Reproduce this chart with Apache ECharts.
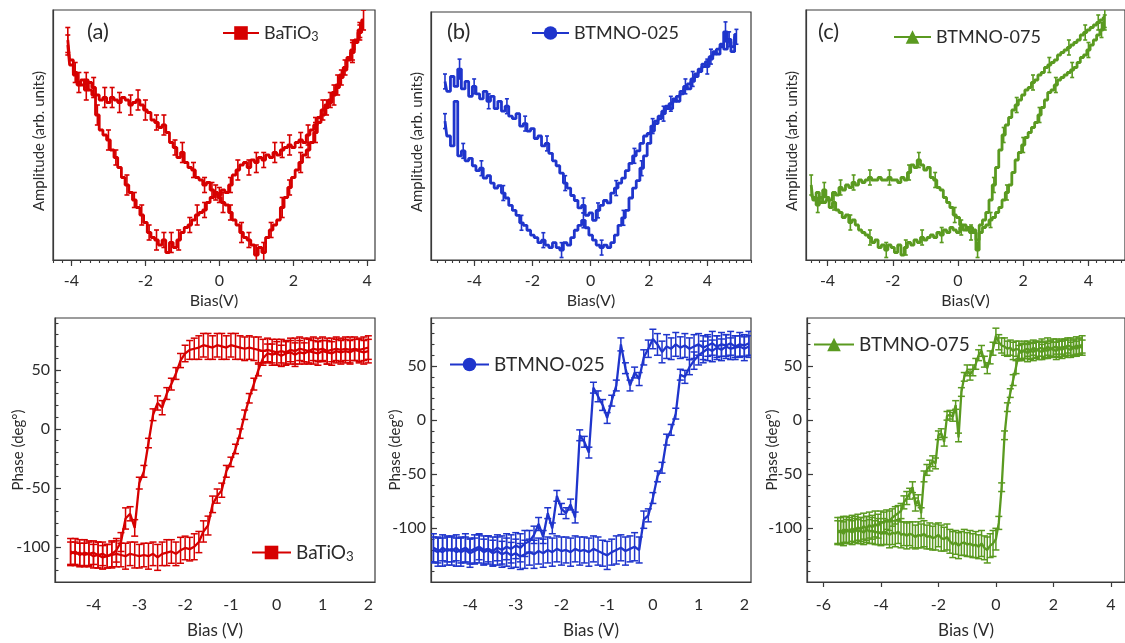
<!DOCTYPE html>
<html>
<head>
<meta charset="utf-8">
<script src="https://cdn.jsdelivr.net/npm/echarts@6/dist/echarts.min.js"></script>
<style>
  html, body { margin: 0; padding: 0; background: #fff; }
  #chart { width: 1125px; height: 643px; }
</style>
</head>
<body>
<div id="chart"></div>
<script>
// ---- data ----
// (a) top: BaTiO3 amplitude, arb. units (0 = bottom of frame, 100 = top)
const biasTopA = [-4.1,-4,-3.9,-3.8,-3.7,-3.6,-3.5,-3.4,-3.3,-3.2,-3.1,-3,-2.9,-2.8,-2.7,-2.6,-2.5,-2.4,-2.3,-2.2,-2.1,-2,-1.9,-1.8,-1.7,-1.6,-1.5,-1.4,-1.3,-1.2,-1.1,-1,-0.9,-0.8,-0.7,-0.6,-0.5,-0.4,-0.3,-0.2,-0.1,0,0.1,0.2,0.3,0.4,0.5,0.6,0.7,0.8,0.9,1,1.1,1.2,1.3,1.4,1.5,1.6,1.7,1.8,1.9,2,2.1,2.2,2.3,2.4,2.5,2.6,2.7,2.8,2.9,3,3.1,3.2,3.3,3.4,3.5,3.6,3.7,3.8,3.9];
const ampUpA = [88,80,75,70,72,68,71,69,66,64, 65,63,65,64,63,65,64,62,63,64, 62,60,59,56,55,53,54,51,47,45, 41,43,39,37,36,33,32,30,31,28, 27,26,28,27,30,34,36,38,39,37, 40,39,41,40,42,41,43,42,44,45, 46,45,47,48,47,50,52,54,57,60, 62,64,67,70,74,77,81,84,88,92,96];
const ampLowA = [86,78,74,71,70,72,68,66,58,52, 50,48,44,41,37,33,30,27,24,21, 18,15,11,9,8,6,8,3,7,5, 8,11,13,14,16,18,19,20,23,25, 27,25,23,22,19,16,14,11,9,8, 6,2,5,3,9,12,14,16,21,25, 29,33,36,39,42,44,47,51,55,58, 61,63,66,69,73,76,80,83,87,91,95];
const errUpA = [5,0,4,0,0,4,0,4,0,0, 4,0,4,0,4,0,0,4,0,4, 0,4,0,0,3,0,4,0,0,3, 0,4,0,0,3,0,0,3,0,3, 0,3,0,0,3,0,4,0,0,3, 0,4,0,3,0,0,4,0,3,0, 4,0,0,3,0,4,0,3,0,4, 0,3,0,4,0,3,0,4,0,3,4];
const errLowA = [4,0,0,4,0,3,0,0,4,0, 0,4,0,3,0,0,4,0,3,0, 4,0,3,0,4,0,3,0,4,0, 4,0,0,3,0,4,0,3,0,0, 3,0,4,0,3,0,0,4,0,3, 0,4,0,4,0,3,0,0,4,0, 3,0,0,4,0,3,0,4,0,0, 3,0,4,0,3,0,0,4,0,3,0];

// (b) top: BTMNO-025 amplitude
const biasTopB = [-5,-4.875,-4.75,-4.625,-4.5,-4.375,-4.25,-4.125,-4,-3.875,-3.75,-3.625,-3.5,-3.375,-3.25,-3.125,-3,-2.875,-2.75,-2.625,-2.5,-2.375,-2.25,-2.125,-2,-1.875,-1.75,-1.625,-1.5,-1.375,-1.25,-1.125,-1,-0.875,-0.75,-0.625,-0.5,-0.375,-0.25,-0.125,0,0.125,0.25,0.375,0.5,0.625,0.75,0.875,1,1.125,1.25,1.375,1.5,1.625,1.75,1.875,2,2.125,2.25,2.375,2.5,2.625,2.75,2.875,3,3.125,3.25,3.375,3.5,3.625,3.75,3.875,4,4.125,4.25,4.375,4.5,4.625,4.75,4.875,5];
const ampUpB = [72,68,74,70,77,69,72,66,70,67, 65,68,64,66,61,64,60,62,58,57, 59,54,55,52,53,49,50,46,47,43, 40,38,35,31,29,26,24,21,22,18, 19,16,20,22,24,23,27,29,31,33, 36,39,42,44,47,50,51,54,56,58, 60,61,63,64,66,68,69,71,73,75, 77,78,80,82,83,85,86,92,88,86,90];
const ampLowB = [56,50,46,64,42,44,40,41,38,36, 37,33,34,31,29,30,27,25,22,20, 18,15,14,12,10,9,7,8,6,5, 7,5,4,7,6,9,12,14,16,13, 10,8,6,5,6,5,7,10,14,17, 20,25,29,32,37,42,47,52,55,57, 59,62,61,65,64,67,70,69,72,74, 76,79,78,81,84,83,87,85,89,84,91];
const errUpB = [3,0,0,0,4,0,0,0,3,0, 0,0,3,0,0,0,0,3,0,0, 0,0,3,0,0,0,0,0,3,0, 0,0,0,3,0,0,0,0,3,0, 0,0,3,0,0,0,0,3,0,0, 0,0,3,0,0,0,0,3,0,0, 0,0,3,0,0,0,0,0,3,0, 0,0,0,3,0,0,0,4,0,0,3];
const errLowB = [3,0,0,0,0,3,0,0,0,0, 3,0,0,0,0,0,3,0,0,0, 0,3,0,0,0,0,0,3,0,0, 0,0,3,0,0,0,0,0,3,0, 0,0,0,3,0,0,0,0,0,3, 0,0,0,0,3,0,0,0,0,0, 3,0,0,0,0,0,3,0,0,0, 0,0,3,0,0,0,0,0,3,0,0];

// (c) top: BTMNO-075 amplitude
const biasTopC = [-4.5,-4.4,-4.3,-4.2,-4.1,-4,-3.9,-3.8,-3.7,-3.6,-3.5,-3.4,-3.3,-3.2,-3.1,-3,-2.9,-2.8,-2.7,-2.6,-2.5,-2.4,-2.3,-2.2,-2.1,-2,-1.9,-1.8,-1.7,-1.6,-1.5,-1.4,-1.3,-1.2,-1.1,-1,-0.9,-0.8,-0.7,-0.6,-0.5,-0.4,-0.3,-0.2,-0.1,0,0.1,0.2,0.3,0.4,0.5,0.6,0.7,0.8,0.9,1,1.1,1.2,1.3,1.4,1.5,1.6,1.7,1.8,1.9,2,2.1,2.2,2.3,2.4,2.5,2.6,2.7,2.8,2.9,3,3.1,3.2,3.3,3.4,3.5,3.6,3.7,3.8,3.9,4,4.1,4.2,4.3,4.4,4.5];
const ampUpC = [30,24,27,23,28,25,24,27,26,29, 28,30,29,31,30,32,31,32,33,32, 32,33,32,32,33,32,32,31,33,32, 35,38,37,40,38,36,37,33,32,29, 28,25,23,21,18,17,14,12,13,11, 12,8,11,13,14,16,17,19,21,24, 27,30,35,40,43,46,49,51,53,55, 58,61,64,67,68,70,72,73,74,75, 76,77,79,81,82,84,86,88,90,92,95];
const ampLowC = [26,25,22,25,23,24,21,23,20,19, 17,18,15,16,14,12,11,10,9,7, 8,5,6,4,6,5,3,6,2,5, 7,6,8,7,9,8,9,10,9,11, 10,12,11,13,12,11,13,14,12,13, 11,4,14,16,19,24,30,37,44,50, 54,57,60,62,64,66,68,69,71,72, 74,75,77,78,79,80,82,83,84,85, 86,87,88,90,91,92,93,94,95,96,97];
const errUpC = [4,0,0,0,3,0,0,0,0,3, 0,0,0,3,0,0,0,0,3,0, 0,0,0,0,3,0,0,0,0,0, 3,0,0,3,0,0,0,0,3,0, 0,0,0,0,3,0,0,0,0,3, 0,0,0,0,0,3,0,0,0,0, 3,0,0,0,0,3,0,0,0,0, 3,0,0,0,0,3,0,0,0,0, 3,0,0,0,0,3,0,0,0,3,3];
const errLowC = [0,0,3,0,0,0,0,3,0,0, 0,0,3,0,0,0,0,0,3,0, 0,0,0,3,0,0,0,0,0,3, 0,0,0,0,3,0,0,0,0,0, 3,0,0,0,0,0,3,0,0,0, 0,3,0,0,0,0,3,0,0,3, 0,0,0,3,0,0,0,0,3,0, 0,0,0,3,0,0,0,0,0,3, 0,0,0,0,3,0,0,0,3,0,4];

// (a) bottom: BaTiO3 phase (deg)
const biasPhA = [-4.5,-4.4,-4.3,-4.2,-4.1,-4,-3.9,-3.8,-3.7,-3.6,-3.5,-3.4,-3.3,-3.2,-3.1,-3,-2.9,-2.8,-2.7,-2.6,-2.5,-2.4,-2.3,-2.2,-2.1,-2,-1.9,-1.8,-1.7,-1.6,-1.5,-1.4,-1.3,-1.2,-1.1,-1,-0.9,-0.8,-0.7,-0.6,-0.5,-0.4,-0.3,-0.2,-0.1,0,0.1,0.2,0.3,0.4,0.5,0.6,0.7,0.8,0.9,1,1.1,1.2,1.3,1.4,1.5,1.6,1.7,1.8,1.9,2];
const phUpA = [-106,-104,-107,-105,-106,-108,-107,-109,-108,-106, -103,-96,-76,-72,-84,-46,-36,-12,12,22, 18,30,38,47,58,64,67,68,69,71, 70,69,71,70,69,71,70,69,68,69, 68,67,66,67,66,65,66,65,67,66, 68,67,66,68,67,68,66,67,68,67, 68,67,68,67,68,69];
const phDownA = [-104,-106,-105,-107,-106,-105,-107,-106,-108,-107, -106,-107,-108,-106,-107,-108,-107,-108,-106,-109, -106,-105,-104,-106,-103,-101,-102,-100,-96,-87, -82,-64,-57,-52,-36,-28,-17,-4,12,26, 38,50,60,64,63,64,62,64,65,63, 65,64,66,65,64,66,65,64,66,65, 66,65,67,66,65,66];
const errPhUpA = [10,11,10,11,10,10,11,10,10,11, 10,8,9,6,7,5,5,4,5,6, 6,5,5,5,6,7,8,9,10,10, 11,10,10,11,10,10,11,10,10,10, 10,11,10,10,10,11,10,10,10,11, 10,10,11,10,10,10,11,10,10,10, 10,11,10,10,10,10];
const errPhDownA = [11,10,11,10,11,10,11,10,10,11, 11,10,11,10,11,10,10,11,10,11, 10,11,10,10,11,10,10,11,9,9, 8,7,6,6,5,4,4,4,4,4, 5,5,6,8,9,10,9,10,10,10, 10,9,10,10,10,9,10,10,10,10, 10,10,9,10,10,10];

// (b) bottom: BTMNO-025 phase (deg)
const biasPhB = [-4.8,-4.7,-4.6,-4.5,-4.4,-4.3,-4.2,-4.1,-4,-3.9,-3.8,-3.7,-3.6,-3.5,-3.4,-3.3,-3.2,-3.1,-3,-2.9,-2.8,-2.7,-2.6,-2.5,-2.4,-2.3,-2.2,-2.1,-2,-1.9,-1.8,-1.7,-1.6,-1.5,-1.4,-1.3,-1.2,-1.1,-1,-0.9,-0.8,-0.7,-0.6,-0.5,-0.4,-0.3,-0.2,-0.1,0,0.1,0.2,0.3,0.4,0.5,0.6,0.7,0.8,0.9,1,1.1,1.2,1.3,1.4,1.5,1.6,1.7,1.8,1.9,2,2.1];
const phUpB = [-120,-122,-118,-121,-119,-122,-120,-118,-121,-119, -117,-120,-119,-121,-118,-120,-117,-119,-116,-118, -114,-112,-106,-96,-108,-86,-100,-70,-82,-86, -78,-90,-14,-20,-30,30,22,14,2,18, 32,70,48,32,44,38,58,66,75,70, 63,68,66,70,67,69,66,68,70,67, 69,71,68,70,69,71,68,70,69,71];
const phDownB = [-118,-120,-122,-119,-121,-118,-122,-120,-123,-121, -119,-122,-120,-123,-121,-124,-122,-125,-123,-126, -124,-122,-124,-121,-123,-120,-122,-119,-121,-120, -122,-119,-121,-120,-122,-119,-121,-123,-125,-122, -120,-118,-121,-119,-117,-120,-92,-88,-72,-52, -44,-18,-9,6,42,40,49,55,60,63, 66,64,67,65,68,66,67,68,66,68];
const errPhUpB = [12,13,12,13,12,13,12,13,12,13, 12,13,12,13,12,13,12,13,12,13, 12,10,8,6,6,5,5,5,5,5, 5,5,5,5,5,5,5,5,5,5, 5,6,5,5,5,6,7,8,9,10, 10,11,10,11,10,11,10,11,10,11, 10,11,10,11,10,11,10,11,10,11];
const errPhDownB = [13,12,13,12,13,12,13,12,13,12, 13,12,13,12,13,12,13,12,13,12, 13,12,13,12,13,12,13,12,13,12, 13,12,13,12,13,12,13,12,13,12, 13,12,13,12,13,12,8,6,5,5, 5,5,5,5,5,6,7,8,9,10, 11,10,11,10,11,10,11,10,11,10];

// (c) bottom: BTMNO-075 phase (deg)
const biasPhC = [-5.5,-5.4,-5.3,-5.2,-5.1,-5,-4.9,-4.8,-4.7,-4.6,-4.5,-4.4,-4.3,-4.2,-4.1,-4,-3.9,-3.8,-3.7,-3.6,-3.5,-3.4,-3.3,-3.2,-3.1,-3,-2.9,-2.8,-2.7,-2.6,-2.5,-2.4,-2.3,-2.2,-2.1,-2,-1.9,-1.8,-1.7,-1.6,-1.5,-1.4,-1.3,-1.2,-1.1,-1,-0.9,-0.8,-0.7,-0.6,-0.5,-0.4,-0.3,-0.2,-0.1,0,0.1,0.2,0.3,0.4,0.5,0.6,0.7,0.8,0.9,1,1.1,1.2,1.3,1.4,1.5,1.6,1.7,1.8,1.9,2,2.1,2.2,2.3,2.4,2.5,2.6,2.7,2.8,2.9,3];
const phUpC = [-104,-102,-105,-101,-103,-100,-102,-99,-101,-98, -100,-97,-99,-96,-98,-94,-95,-92,-93,-90, -88,-86,-84,-76,-72,-68,-62,-78,-74,-86, -52,-46,-42,-38,-40,-14,-12,-20,4,5, 3,14,-16,26,40,46,42,46,52,60, 64,54,48,58,66,78,72,69,68,66, 67,64,66,65,63,65,66,64,67,65, 66,67,65,68,66,67,68,66,68,67, 69,68,67,69,68,70];
const phDownC = [-102,-104,-101,-103,-102,-104,-101,-103,-102,-104, -101,-103,-102,-104,-103,-105,-103,-104,-106,-104, -105,-103,-106,-105,-107,-105,-106,-108,-106,-107, -105,-108,-107,-109,-108,-106,-109,-110,-108,-112, -115,-113,-116,-114,-113,-115,-114,-116,-115,-117, -114,-118,-120,-116,-114,-110,-95,-62,-14,12, 25,37,49,62,63,64,62,64,63,65, 64,63,65,64,66,65,64,66,65,67, 66,65,67,66,68,67];
const errPhUpC = [11,12,11,12,11,12,11,12,11,12, 11,12,11,12,11,10,10,9,9,8, 8,7,7,6,6,5,5,6,5,5, 5,5,5,5,5,4,4,4,4,4, 4,4,4,4,4,5,5,5,5,5, 5,5,5,6,6,7,7,7,8,7, 7,8,7,8,7,8,7,8,7,8, 7,8,7,8,7,8,7,8,7,8, 7,8,7,8,7,8];
const errPhDownC = [12,11,12,11,12,11,12,11,12,11, 12,11,12,11,12,11,12,11,12,11, 12,11,12,11,12,11,12,11,12,11, 12,11,12,11,12,11,12,11,12,11, 12,11,12,11,12,11,12,11,12,11, 12,11,12,11,12,10,6,4,4,4, 4,5,6,7,8,7,8,7,8,7, 8,7,8,7,8,7,8,7,8,7, 8,7,8,7,8,7];

// tick labels
const biasTicksTop = [-4, -2, 0, 2, 4];
const biasTicksBotAB = [-4, -3, -2, -1, 0, 1, 2];
const biasTicksBotC = [-6, -4, -2, 0, 2, 4];
const phaseTicks = [-100, -50, 0, 50];

// ---- styling / layout ----
const FONT = 'Lato, "Noto Sans", sans-serif';
const AXIS = '#3a3a3a';
const TEXT = '#2b2b2b';
const RED = '#d60000';
const BLUE = '#1f35cc';
const GREEN = '#5a9a20';

const pairs = (xs, ys) => xs.map((x, i) => [x, ys[i]]);
const bars = (xs, ys, es) => xs
  .map((x, i) => [x, ys[i] - (es[i] || 0), ys[i] + (es[i] || 0), es[i] || 0])
  .filter(d => d[3] > 0);

function minorTicks(min, max, step) {
  const out = [];
  for (let v = Math.ceil(min / step) * step; v <= max + 1e-9; v += step) {
    out.push(Math.round(v * 1000) / 1000);
  }
  return out;
}

function errorBar(cap, width) {
  return function (params, api) {
    const x = api.value(0);
    const lo = api.coord([x, api.value(1)]);
    const hi = api.coord([x, api.value(2)]);
    const style = { stroke: api.visual('color'), lineWidth: width };
    return {
      type: 'group',
      children: [
        { type: 'line', shape: { x1: lo[0], y1: lo[1], x2: hi[0], y2: hi[1] }, style },
        { type: 'line', shape: { x1: lo[0] - cap, y1: lo[1], x2: lo[0] + cap, y2: lo[1] }, style },
        { type: 'line', shape: { x1: hi[0] - cap, y1: hi[1], x2: hi[0] + cap, y2: hi[1] }, style }
      ]
    };
  };
}

const panels = [
  { grid: { left: 53, top: 10, width: 322, height: 250 }, x: [-4.5, 4.21], y: [0, 100], xTicks: biasTicksTop, top: true },
  { grid: { left: 431, top: 12, width: 320, height: 248 }, x: [-5.48, 5.5], y: [0, 100], xTicks: biasTicksTop, top: true },
  { grid: { left: 806, top: 10, width: 330, height: 250 }, x: [-4.66, 5.12], y: [0, 100], xTicks: biasTicksTop, top: true },
  { grid: { left: 55, top: 318, width: 320, height: 264 }, x: [-4.84, 2.145], y: [-129.9, 94.1], xTicks: biasTicksBotAB, yGap: 29, xTickLen: 0 },
  { grid: { left: 431, top: 318, width: 320, height: 264 }, x: [-4.853, 2.146], y: [-149.6, 94.4], xTicks: biasTicksBotAB, yGap: 28, xTickLen: 0 },
  { grid: { left: 807, top: 318, width: 330, height: 264 }, x: [-6.57, 4.49], y: [-149.6, 94.4], xTicks: biasTicksBotC, yGap: 27, xTickLen: 5 }
];

const grid = [], xAxis = [], yAxis = [];
panels.forEach((p, i) => {
  grid.push(Object.assign({ show: true, borderColor: AXIS, borderWidth: 1.2, backgroundColor: 'transparent' }, p.grid));
  const axisLine = { show: true, onZero: false, lineStyle: { color: AXIS, width: 1.2 } };
  // main x axis
  xAxis.push({
    type: 'value', gridIndex: i, min: p.x[0], max: p.x[1], position: 'bottom',
    axisLine,
    axisTick: { show: p.top || p.xTickLen > 0, length: p.top ? 6 : p.xTickLen, customValues: p.xTicks, lineStyle: { color: AXIS, width: 1.2 } },
    axisLabel: { customValues: p.xTicks, fontSize: 16, color: TEXT, fontFamily: FONT, margin: p.top ? 13 : 15 },
    splitLine: { show: false },
    name: p.top ? 'Bias(V)' : 'Bias (V)', nameLocation: 'middle', nameGap: p.top ? 33 : 40,
    nameTextStyle: { fontSize: p.top ? 16 : 17, color: TEXT, fontFamily: FONT }
  });
  // minor x ticks (top row only)
  xAxis.push({
    type: 'value', gridIndex: i, min: p.x[0], max: p.x[1], position: 'bottom',
    axisLine: { show: false, onZero: false },
    axisTick: { show: !!p.top, length: 3, customValues: minorTicks(p.x[0], p.x[1], 0.25), lineStyle: { color: AXIS, width: 1.1 } },
    axisLabel: { show: false }, splitLine: { show: false }
  });
  if (p.top) {
    yAxis.push({
      type: 'value', gridIndex: i, min: p.y[0], max: p.y[1],
      axisLine, axisTick: { show: false }, axisLabel: { show: false }, splitLine: { show: false },
      name: 'Amplitude (arb. units)', nameLocation: 'middle', nameGap: 6, nameRotate: 90,
      nameTextStyle: { fontSize: 15, color: TEXT, fontFamily: FONT, padding: [0, 0, 0, -12] }
    });
    yAxis.push({ type: 'value', gridIndex: i, min: p.y[0], max: p.y[1], show: false });
  } else {
    yAxis.push({
      type: 'value', gridIndex: i, min: p.y[0], max: p.y[1],
      axisLine,
      axisTick: { show: true, inside: true, length: 6, customValues: phaseTicks, lineStyle: { color: AXIS, width: 1.2 } },
      axisLabel: { customValues: phaseTicks, fontSize: 16, color: TEXT, fontFamily: FONT, margin: 5 },
      splitLine: { show: false },
      name: 'Phase (deg°)', nameLocation: 'middle', nameGap: p.yGap, nameRotate: 90, nameMoveOverlap: false,
      nameTextStyle: { fontSize: 15, color: TEXT, fontFamily: FONT }
    });
    yAxis.push({
      type: 'value', gridIndex: i, min: p.y[0], max: p.y[1], position: 'left',
      axisLine: { show: false, onZero: false },
      axisTick: { show: true, inside: true, length: 3.5, customValues: minorTicks(p.y[0], p.y[1], 10), lineStyle: { color: AXIS, width: 1.1 } },
      axisLabel: { show: false }, splitLine: { show: false }
    });
  }
});

function lineS(i, name, xs, ys, color, symbol, step) {
  return {
    type: 'line', name, xAxisIndex: 2 * i, yAxisIndex: 2 * i,
    data: pairs(xs, ys), step: step || false, showSymbol: false, symbol, symbolSize: 14,
    lineStyle: { color, width: step ? 2.8 : 2.3 }, itemStyle: { color },
    clip: true, silent: true, z: 3
  };
}
function errS(i, xs, ys, es, color, cap, width) {
  return {
    type: 'custom', xAxisIndex: 2 * i, yAxisIndex: 2 * i,
    data: bars(xs, ys, es), encode: { x: 0, y: [1, 2] },
    renderItem: errorBar(cap, width), itemStyle: { color },
    clip: true, silent: true, z: 2
  };
}

const series = [
  lineS(0, 'BaTiO3', biasTopA, ampUpA, RED, 'rect', 'middle'),
  lineS(0, 'a-top-2', biasTopA, ampLowA, RED, 'rect', 'middle'),
  errS(0, biasTopA, ampUpA, errUpA, RED, 2.5, 1.6),
  errS(0, biasTopA, ampLowA, errLowA, RED, 2.5, 1.6),

  lineS(1, 'BTMNO-025', biasTopB, ampUpB, BLUE, 'circle', 'middle'),
  lineS(1, 'b-top-2', biasTopB, ampLowB, BLUE, 'circle', 'middle'),
  errS(1, biasTopB, ampUpB, errUpB, BLUE, 2, 1.6),
  errS(1, biasTopB, ampLowB, errLowB, BLUE, 2, 1.6),

  lineS(2, 'BTMNO-075', biasTopC, ampUpC, GREEN, 'triangle', 'middle'),
  lineS(2, 'c-top-2', biasTopC, ampLowC, GREEN, 'triangle', 'middle'),
  errS(2, biasTopC, ampUpC, errUpC, GREEN, 2, 1.6),
  errS(2, biasTopC, ampLowC, errLowC, GREEN, 2, 1.6),

  lineS(3, 'a-bot-1', biasPhA, phUpA, RED, 'rect'),
  lineS(3, 'a-bot-2', biasPhA, phDownA, RED, 'rect'),
  errS(3, biasPhA, phUpA, errPhUpA, RED, 3.5, 1.5),
  errS(3, biasPhA, phDownA, errPhDownA, RED, 3.5, 1.5),

  lineS(4, 'b-bot-1', biasPhB, phUpB, BLUE, 'circle'),
  lineS(4, 'b-bot-2', biasPhB, phDownB, BLUE, 'circle'),
  errS(4, biasPhB, phUpB, errPhUpB, BLUE, 3.5, 1.5),
  errS(4, biasPhB, phDownB, errPhDownB, BLUE, 3.5, 1.5),

  lineS(5, 'c-bot-1', biasPhC, phUpC, GREEN, 'triangle'),
  lineS(5, 'c-bot-2', biasPhC, phDownC, GREEN, 'triangle'),
  errS(5, biasPhC, phUpC, errPhUpC, GREEN, 3.5, 1.5),
  errS(5, biasPhC, phDownC, errPhDownC, GREEN, 3.5, 1.5)
];

function legendAt(name, left, top, itemWidth, fontSize) {
  return {
    data: [name], left, top, padding: 0, itemWidth, itemHeight: 17, selectedMode: false,
    formatter: n => n === 'BaTiO3' ? 'BaTiO{sub|3}' : n,
    textStyle: {
      fontSize, color: TEXT, fontFamily: FONT,
      rich: { sub: { fontSize: fontSize * 0.7, color: TEXT, fontFamily: FONT, verticalAlign: 'bottom', padding: [8, 0, 0, 0] } }
    }
  };
}

const option = {
  animation: false,
  backgroundColor: '#fff',
  title: [
    { text: '(a)', left: 87, top: 21, padding: 0, textStyle: { fontSize: 22, fontWeight: 'normal', color: TEXT, fontFamily: FONT } },
    { text: '(b)', left: 447, top: 21, padding: 0, textStyle: { fontSize: 22, fontWeight: 'normal', color: TEXT, fontFamily: FONT } },
    { text: '(c)', left: 818, top: 21, padding: 0, textStyle: { fontSize: 22, fontWeight: 'normal', color: TEXT, fontFamily: FONT } }
  ],
  legend: [
    legendAt('BaTiO3', 222, 24, 36, 18),
    legendAt('BTMNO-025', 531, 24, 37, 18),
    legendAt('BTMNO-075', 893, 28, 37, 18),
    legendAt('BaTiO3', 251, 543, 39, 19),
    legendAt('BTMNO-025', 449, 355, 39, 19),
    legendAt('BTMNO-075', 813, 335, 40, 19)
  ],
  grid, xAxis, yAxis, series
};

const chart = echarts.init(document.getElementById('chart'));
chart.setOption(option);
</script>
</body>
</html>
